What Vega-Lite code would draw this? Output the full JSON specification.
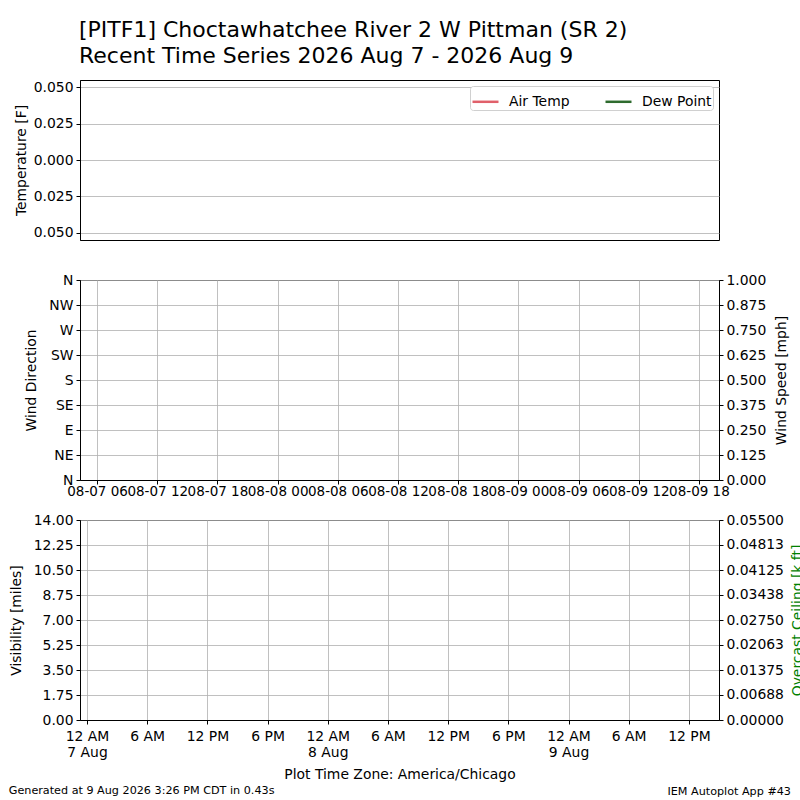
{
  "$schema": "https://vega.github.io/schema/vega-lite/v6.json",
  "background": "white",
  "padding": {"left": 8, "top": 18, "right": 0, "bottom": 0},
  "spacing": 14,
  "datasets": {
    "obs": [
      {"valid": "2026-08-07T12:00:00Z", "tmpf": null, "dwpf": null, "drct": null, "sknt": null, "vsby": null, "ceiling": null},
      {"valid": "2026-08-08T12:00:00Z", "tmpf": null, "dwpf": null, "drct": null, "sknt": null, "vsby": null, "ceiling": null},
      {"valid": "2026-08-09T12:00:00Z", "tmpf": null, "dwpf": null, "drct": null, "sknt": null, "vsby": null, "ceiling": null}
    ]
  },
  "title": {"text": "Generated at 9 Aug 2026 3:26 PM CDT in 0.43s", "orient": "bottom", "anchor": "start", "frame": "bounds", "fontSize": 11.2, "fontWeight": "normal", "offset": -13, "dx": 0},
  "config": {
    "font": "DejaVu Sans",
    "view": {"stroke": "black", "strokeWidth": 1},
    "axis": {"labelFontSize": 13.9, "titleFontSize": 13.9, "titleFontWeight": "normal", "labelColor": "black", "titleColor": "black", "tickColor": "black", "domainColor": "black", "tickSize": 4, "labelPadding": 3, "gridColor": "#b0b0b0", "gridWidth": 0.8, "labelOverlap": false, "labelFlush": false, "labelBound": false, "titlePadding": 4},
    "title": {"font": "DejaVu Sans", "color": "black", "fontWeight": "normal"},
    "legend": {"labelFontSize": 13.9, "labelColor": "black"}
  },
  "vconcat": [
    {
      "title": {"text": ["[PITF1] Choctawhatchee River 2 W Pittman (SR 2)", "Recent Time Series 2026 Aug 7 - 2026 Aug 9"], "anchor": "start", "frame": "group", "fontSize": 22, "fontWeight": "normal", "lineHeight": 26, "offset": 12, "dx": -1},
      "width": 639,
      "height": 160,
      "data": {"name": "obs"},
      "encoding": {
        "x": {"field": "valid", "type": "temporal",
          "scale": {"type": "utc", "domain": [{"year": 2026, "month": 8, "date": 7, "hours": 4, "minutes": 18, "utc": true}, {"year": 2026, "month": 8, "date": 9, "hours": 20, "minutes": 0, "utc": true}]},
          "axis": {"title": null, "grid": false, "ticks": false, "domain": false, "labelColor": "transparent", "labelPadding": 3,
            "values": [{"year": 2026, "month": 8, "date": 7, "hours": 12, "utc": true}],
            "labelExpr": "utcFormat(datum.value, '%m-%d %H')"}}
      },
      "layer": [
        {"mark": {"type": "line", "strokeWidth": 2},
          "encoding": {
            "y": {"field": "tmpf", "type": "quantitative", "title": "Temperature [F]",
              "scale": {"domain": [-0.055, 0.055], "nice": false, "zero": false},
              "axis": {"values": [-0.05, -0.025, 0, 0.025, 0.05], "labelExpr": "format(abs(datum.value), '.3f')", "grid": true, "titlePadding": 5}},
            "color": {"datum": "Air Temp", "type": "nominal",
              "scale": {"domain": ["Air Temp", "Dew Point"], "range": ["#e0606a", "#2e6b2e"]},
              "legend": {"title": null, "orient": "top-right", "direction": "horizontal", "symbolType": "stroke", "symbolStrokeWidth": 2.5, "symbolSize": 676, "labelFontSize": 13.9, "labelOffset": 9, "strokeColor": "#d0d0d0", "fillColor": "white", "padding": 1, "cornerRadius": 3, "offset": 6, "columnPadding": 30}}
          }},
        {"mark": {"type": "line", "strokeWidth": 2},
          "encoding": {
            "y": {"field": "dwpf", "type": "quantitative", "title": "Temperature [F]",
              "axis": {"values": [-0.05, -0.025, 0, 0.025, 0.05], "labelExpr": "format(abs(datum.value), '.3f')", "grid": true, "titlePadding": 5}},
            "color": {"datum": "Dew Point", "type": "nominal"}
          }}
      ]
    },
    {
      "width": 639,
      "height": 200,
      "data": {"name": "obs"},
      "encoding": {
        "x": {"field": "valid", "type": "temporal",
          "scale": {"type": "utc", "domain": [{"year": 2026, "month": 8, "date": 7, "hours": 4, "minutes": 18, "utc": true}, {"year": 2026, "month": 8, "date": 9, "hours": 20, "minutes": 0, "utc": true}]},
          "axis": {"title": null, "grid": true, "labelFontSize": 13.5, "labelPadding": 0,
            "values": [
              {"year": 2026, "month": 8, "date": 7, "hours": 6, "utc": true},
              {"year": 2026, "month": 8, "date": 7, "hours": 12, "utc": true},
              {"year": 2026, "month": 8, "date": 7, "hours": 18, "utc": true},
              {"year": 2026, "month": 8, "date": 8, "hours": 0, "utc": true},
              {"year": 2026, "month": 8, "date": 8, "hours": 6, "utc": true},
              {"year": 2026, "month": 8, "date": 8, "hours": 12, "utc": true},
              {"year": 2026, "month": 8, "date": 8, "hours": 18, "utc": true},
              {"year": 2026, "month": 8, "date": 9, "hours": 0, "utc": true},
              {"year": 2026, "month": 8, "date": 9, "hours": 6, "utc": true},
              {"year": 2026, "month": 8, "date": 9, "hours": 12, "utc": true},
              {"year": 2026, "month": 8, "date": 9, "hours": 18, "utc": true}
            ],
            "labelExpr": "utcFormat(datum.value, '%m-%d %H')"}}
      },
      "layer": [
        {"mark": {"type": "point"},
          "encoding": {
            "y": {"field": "drct", "type": "quantitative", "title": "Wind Direction",
              "scale": {"domain": [0, 360], "nice": false},
              "axis": {"values": [0, 45, 90, 135, 180, 225, 270, 315, 360], "grid": true, "titlePadding": 10,
                "labelExpr": "['N','NE','E','SE','S','SW','W','NW','N'][round(datum.value / 45)]"}}
          }},
        {"mark": {"type": "line"},
          "encoding": {
            "y": {"field": "sknt", "type": "quantitative", "title": "Wind Speed [mph]",
              "scale": {"domain": [0, 1], "nice": false},
              "axis": {"orient": "right", "values": [0, 0.125, 0.25, 0.375, 0.5, 0.625, 0.75, 0.875, 1], "format": ".3f", "grid": false, "titleAngle": 270, "titleBaseline": "top", "titlePadding": 9}}
          }}
      ],
      "resolve": {"scale": {"y": "independent"}}
    },
    {
      "title": {"text": "IEM Autoplot App #43", "orient": "bottom", "anchor": "end", "frame": "group", "fontSize": 11.2, "fontWeight": "normal", "dx": 72, "offset": 4},
      "width": 639,
      "height": 200,
      "data": {"name": "obs"},
      "encoding": {
        "x": {"field": "valid", "type": "temporal",
          "scale": {"type": "utc", "domain": [{"year": 2026, "month": 8, "date": 7, "hours": 4, "minutes": 18, "utc": true}, {"year": 2026, "month": 8, "date": 9, "hours": 20, "minutes": 0, "utc": true}]},
          "axis": {"title": "Plot Time Zone: America/Chicago", "grid": true, "labelPadding": 5, "labelLineHeight": 16, "titlePadding": 9,
            "values": [
              {"year": 2026, "month": 8, "date": 7, "hours": 5, "utc": true},
              {"year": 2026, "month": 8, "date": 7, "hours": 11, "utc": true},
              {"year": 2026, "month": 8, "date": 7, "hours": 17, "utc": true},
              {"year": 2026, "month": 8, "date": 7, "hours": 23, "utc": true},
              {"year": 2026, "month": 8, "date": 8, "hours": 5, "utc": true},
              {"year": 2026, "month": 8, "date": 8, "hours": 11, "utc": true},
              {"year": 2026, "month": 8, "date": 8, "hours": 17, "utc": true},
              {"year": 2026, "month": 8, "date": 8, "hours": 23, "utc": true},
              {"year": 2026, "month": 8, "date": 9, "hours": 5, "utc": true},
              {"year": 2026, "month": 8, "date": 9, "hours": 11, "utc": true},
              {"year": 2026, "month": 8, "date": 9, "hours": 17, "utc": true}
            ],
            "labelExpr": "utchours(datum.value) == 5 ? [utcFormat(datum.value - 18000000, '%-I %p'), utcFormat(datum.value - 18000000, '%-d %b')] : utcFormat(datum.value - 18000000, '%-I %p')"}}
      },
      "layer": [
        {"mark": {"type": "line"},
          "encoding": {
            "y": {"field": "vsby", "type": "quantitative", "title": "Visibility [miles]",
              "scale": {"domain": [0, 14], "nice": false},
              "axis": {"values": [0, 1.75, 3.5, 5.25, 7, 8.75, 10.5, 12.25, 14], "format": ".2f", "grid": true, "titlePadding": 10}}
          }},
        {"mark": {"type": "line"},
          "encoding": {
            "y": {"field": "ceiling", "type": "quantitative", "title": "Overcast Ceiling [k ft]",
              "scale": {"domain": [0, 0.055], "nice": false},
              "axis": {"orient": "right", "values": [0, 0.006876, 0.01375, 0.020626, 0.0275, 0.034376, 0.04125, 0.048126, 0.055], "format": ".5f", "grid": false, "titleColor": "green", "titleAngle": 270, "titleBaseline": "top", "titlePadding": 7}}
          }}
      ],
      "resolve": {"scale": {"y": "independent"}}
    }
  ]
}
